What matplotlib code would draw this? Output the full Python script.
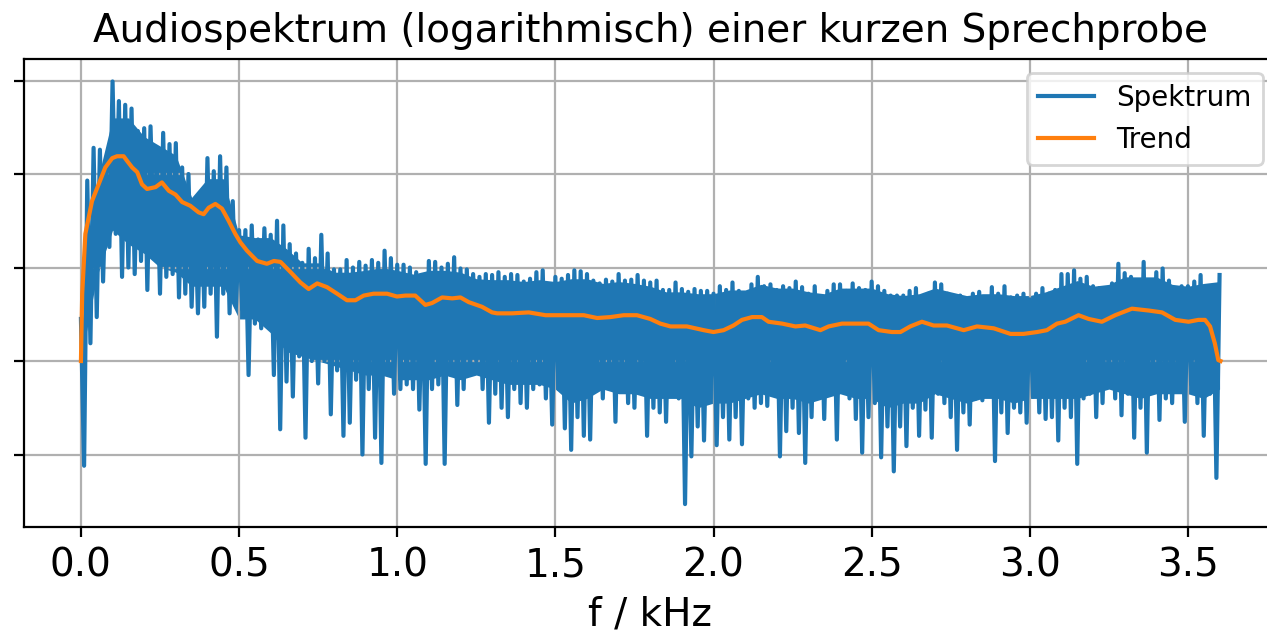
# -------------------------------
# IMPORT LIBRARIES
# -------------------------------
import numpy as np
import matplotlib.pyplot as plt

# -------------------------------
# DATA: LOG SPECTRUM (bins every 10 Hz, alternating peak / dip)
# -------------------------------
# peaks at 0.00, 0.02, ... 3.60 kHz
spek_hoch = [
    0.45, 1.93, 2.28, 2.26, 2.07, 2.99, 2.78, 2.74, 2.70, 2.46, 2.49, 2.51, 2.17,
    2.44, 2.32, 2.33, 2.07, 2.00, 1.71, 1.78, 2.17, 2.03, 2.19, 2.07, 1.71,
    1.40, 1.40, 1.45, 1.30, 1.42, 1.35, 1.50, 1.45, 1.25, 1.15, 1.05, 1.20, 1.10,
    1.35, 1.15, 0.98, 0.98, 1.08, 1.00, 1.06, 1.02, 1.08, 1.05, 1.18, 1.10,
    1.03, 1.03, 1.00, 0.95, 0.87, 1.07, 1.06, 1.00, 1.04, 1.11, 0.99, 0.98, 0.93,
    0.90, 0.93, 0.92, 0.95, 0.90, 0.93, 0.92, 0.85, 0.88, 0.95, 0.97, 0.77,
    0.90, 0.88, 0.92, 0.97, 0.96, 0.93, 0.86, 0.83, 0.87, 0.85, 0.93, 0.86, 0.87,
    0.92, 0.86, 0.84, 0.86, 0.76, 0.76, 0.84, 0.77, 0.74, 0.77, 0.75, 0.75,
    0.72, 0.80, 0.76, 0.84, 0.75, 0.72, 0.82, 0.90, 0.80, 0.82, 0.76, 0.80, 0.78,
    0.85, 0.79, 0.72, 0.80, 0.68, 0.75, 0.82, 0.82, 0.75, 0.83, 0.78, 0.76,
    0.85, 0.80, 0.75, 0.70, 0.70, 0.70, 0.75, 0.78, 0.65, 0.72, 0.84, 0.82, 0.72,
    0.67, 0.70, 0.65, 0.72, 0.74, 0.66, 0.79, 0.72, 0.80, 0.68, 0.70, 0.72,
    0.66, 0.72, 0.78, 0.72, 0.76, 0.93, 0.93, 0.97, 0.88, 0.90, 0.80, 0.78, 0.76,
    0.83, 1.04, 0.94, 0.90, 0.85, 1.06, 0.86, 0.95, 0.99, 0.86, 0.76, 0.80,
    0.80, 0.85, 0.92, 0.80, 0.80, 0.92,
]

# dips at 0.01, 0.03, ... 3.59 kHz
spek_tief = [
    -1.12, 0.19, 0.47, 0.85, 1.22, 1.36, 0.90, 1.00, 0.93, 1.07, 0.76, 1.32, 0.72,
    0.90, 0.93, 0.68, 0.72, 0.58, 0.51, 0.58, 0.72, 0.26, 0.72, 0.51, 0.58,
    0.55, -0.15, 0.40, 0.35, 0.45, -0.15, -0.73, -0.22, -0.38, 0.05, -0.82, 0.00,
    -0.24, 0.00, -0.57, -0.10, -0.80, -0.66, -0.20, -1.00, -0.30, -0.82, -1.09,
    -0.10, -0.35,
    -0.30, -0.25, -0.30, -0.52, -1.10, -0.30, -0.25, -1.10, -0.15, -0.47, -0.30,
    -0.10, 0.00, -0.30, -0.66, -0.35, -0.50, -0.60, -0.30, -0.45, -0.50, -0.30,
    -0.25, -0.40, -0.68,
    -0.30, -0.72, -0.95, -0.60, -0.80, -0.84, -0.30, -0.40, -0.10, -0.65, -0.20,
    -0.45, -0.50, -0.20, -0.80, -0.50, -0.55, -0.65, -0.30, -0.40, -1.53, -1.02,
    -0.70, -0.85, -0.40,
    -0.90, -0.60, -0.84, -0.60, -0.89, -0.40, -0.50, -0.45, -0.48, -0.30, -1.02,
    -0.75, -0.50, -0.77, -1.09, -0.60, -0.35, -0.62, -0.30, -0.84, -0.20, -0.40,
    -0.62, -0.98, -0.60,
    -0.45, -1.03, -0.70, -1.18, -0.70, -0.91, -0.50, -0.80, -0.52, -0.82, -0.35,
    -0.45, -0.60, -0.95, -0.55, -0.68, -0.40, -0.42, -0.30, -1.07, -0.55, -0.77,
    -0.50, -0.55, -0.66,
    -0.38, -0.55, -0.62, -0.60, -0.85, -0.50, -0.60, -1.10, -0.40, -0.35, -0.60,
    -0.45, -0.20, -0.40, -0.58, -0.35, -0.82, -0.50, -0.98, -0.10, -0.63, -0.40,
    -0.45, -0.30, -0.65,
    -0.25, -0.45, -0.80, -0.35, -1.25,
]

# dense core of the spectrum (every 50 Hz): lower / upper edge
kern_unten = [
    0.00, 0.90, 1.40, 1.25, 1.15, 1.00, 0.95, 0.80, 0.80, 0.80,
    0.45, 0.45, 0.30, 0.10, 0.05, 0.00, -0.05, -0.10, -0.15, -0.15,
    -0.20, -0.20, -0.20, -0.15, -0.20, -0.15, -0.20, -0.25, -0.25, -0.25,
    -0.30, -0.45, -0.40, -0.30, -0.35, -0.35, -0.40, -0.40, -0.40, -0.50,
    -0.45, -0.45, -0.40, -0.35, -0.40, -0.40, -0.45, -0.40, -0.35, -0.40,
    -0.40, -0.50, -0.45, -0.45, -0.35, -0.40, -0.45, -0.40, -0.40, -0.45,
    -0.40, -0.40, -0.40, -0.40, -0.35, -0.30, -0.35, -0.40, -0.35, -0.35,
    -0.35, -0.40, -0.30,
]
kern_oben = [
    0.30, 1.90, 2.60, 2.60, 2.40, 2.30, 2.20, 1.75, 1.95, 1.95,
    1.35, 1.32, 1.32, 1.20, 1.05, 1.05, 0.95, 0.95, 0.97, 1.00,
    0.97, 0.93, 0.97, 0.97, 0.95, 0.88, 0.87, 0.87, 0.85, 0.87,
    0.85, 0.88, 0.88, 0.83, 0.85, 0.83, 0.80, 0.74, 0.74, 0.72,
    0.72, 0.76, 0.76, 0.82, 0.78, 0.78, 0.74, 0.72, 0.78, 0.78,
    0.78, 0.72, 0.70, 0.72, 0.78, 0.74, 0.70, 0.72, 0.72, 0.70,
    0.70, 0.74, 0.80, 0.86, 0.80, 0.82, 0.90, 0.90, 0.90, 0.82,
    0.80, 0.83, 0.85,
]

# smoothed trend
trend_f = [
    0.000, 0.004, 0.014, 0.035, 0.056, 0.077, 0.099, 0.114, 0.135, 0.146, 0.162,
    0.178, 0.193, 0.209, 0.236, 0.256, 0.278, 0.299, 0.320, 0.346, 0.372, 0.388,
    0.404, 0.425, 0.446, 0.467, 0.488, 0.504, 0.525, 0.557, 0.588, 0.610, 0.631,
    0.663, 0.694, 0.720, 0.747, 0.778, 0.810, 0.841, 0.868, 0.894, 0.925, 0.968,
    0.999, 1.026, 1.057, 1.089, 1.110, 1.142, 1.174, 1.200, 1.226, 1.268, 1.300,
    1.316, 1.363, 1.416, 1.469, 1.510, 1.548, 1.590, 1.632, 1.674, 1.716, 1.758,
    1.800, 1.832, 1.864, 1.916, 1.969, 2.000, 2.032, 2.063, 2.090, 2.122, 2.153,
    2.174, 2.217, 2.259, 2.290, 2.338, 2.364, 2.406, 2.448, 2.490, 2.522, 2.564,
    2.591, 2.622, 2.659, 2.696, 2.738, 2.791, 2.833, 2.886, 2.939, 2.980, 3.023,
    3.054, 3.086, 3.112, 3.154, 3.186, 3.228, 3.270, 3.323, 3.376, 3.418, 3.460,
    3.502, 3.533, 3.554, 3.570, 3.585, 3.596, 3.603,
]
trend_val = [
    0.00, 0.72, 1.36, 1.71, 1.89, 2.07, 2.17, 2.19, 2.19, 2.14, 2.07,
    2.02, 1.89, 1.84, 1.86, 1.91, 1.82, 1.78, 1.70, 1.66, 1.59, 1.57,
    1.64, 1.68, 1.63, 1.50, 1.36, 1.27, 1.18, 1.07, 1.04, 1.07, 1.06,
    0.95, 0.84, 0.77, 0.83, 0.79, 0.72, 0.65, 0.65, 0.70, 0.72, 0.72,
    0.69, 0.70, 0.70, 0.60, 0.62, 0.68, 0.67, 0.68, 0.63, 0.58, 0.52,
    0.51, 0.51, 0.52, 0.49, 0.49, 0.49, 0.49, 0.46, 0.47, 0.49, 0.49,
    0.45, 0.40, 0.37, 0.37, 0.33, 0.31, 0.33, 0.38, 0.44, 0.47, 0.47,
    0.42, 0.40, 0.37, 0.38, 0.33, 0.37, 0.40, 0.40, 0.40, 0.33, 0.31,
    0.31, 0.37, 0.42, 0.38, 0.38, 0.33, 0.37, 0.35, 0.29, 0.29, 0.31,
    0.33, 0.40, 0.42, 0.49, 0.45, 0.42, 0.49, 0.56, 0.54, 0.52, 0.44,
    0.42, 0.44, 0.44, 0.37, 0.19, 0.01, 0.00,
]

# -------------------------------
# BUILD SPECTRUM LINE
# -------------------------------
spek = np.empty(len(spek_hoch) + len(spek_tief))
spek[0::2] = spek_hoch
spek[1::2] = spek_tief
f_khz = np.arange(len(spek)) * 0.01
kern_f = np.arange(len(kern_oben)) * 0.05

# -------------------------------
# PLOT
# -------------------------------
fig = plt.figure(figsize=(12.67 / 2, 6.33 / 2), dpi=200)
ax = fig.add_axes([24 / 1267, 106 / 633, 1252.5 / 1267, 468 / 633])

ax.fill_between(kern_f, kern_unten, kern_oben, color='C0', lw=0)
ax.plot(f_khz, spek, color='C0', lw=1.5, label='Spektrum')
ax.plot(trend_f, trend_val, color='C1', lw=1.5, label='Trend')

ax.set_xlim(-0.18, 3.78)
ax.set_ylim(-1.775, 3.23)
ax.set_yticks([-1, 0, 1, 2, 3])
ax.set_yticklabels([])
ax.tick_params(axis='x', labelsize=14)
ax.grid(True)

ax.set_title("Audiospektrum (logarithmisch) einer kurzen Sprechprobe", fontsize=14)
ax.set_xlabel("f / kHz", fontsize=14)
ax.legend(loc='upper right', fontsize=10)

fig.savefig("out.png", dpi=200)
